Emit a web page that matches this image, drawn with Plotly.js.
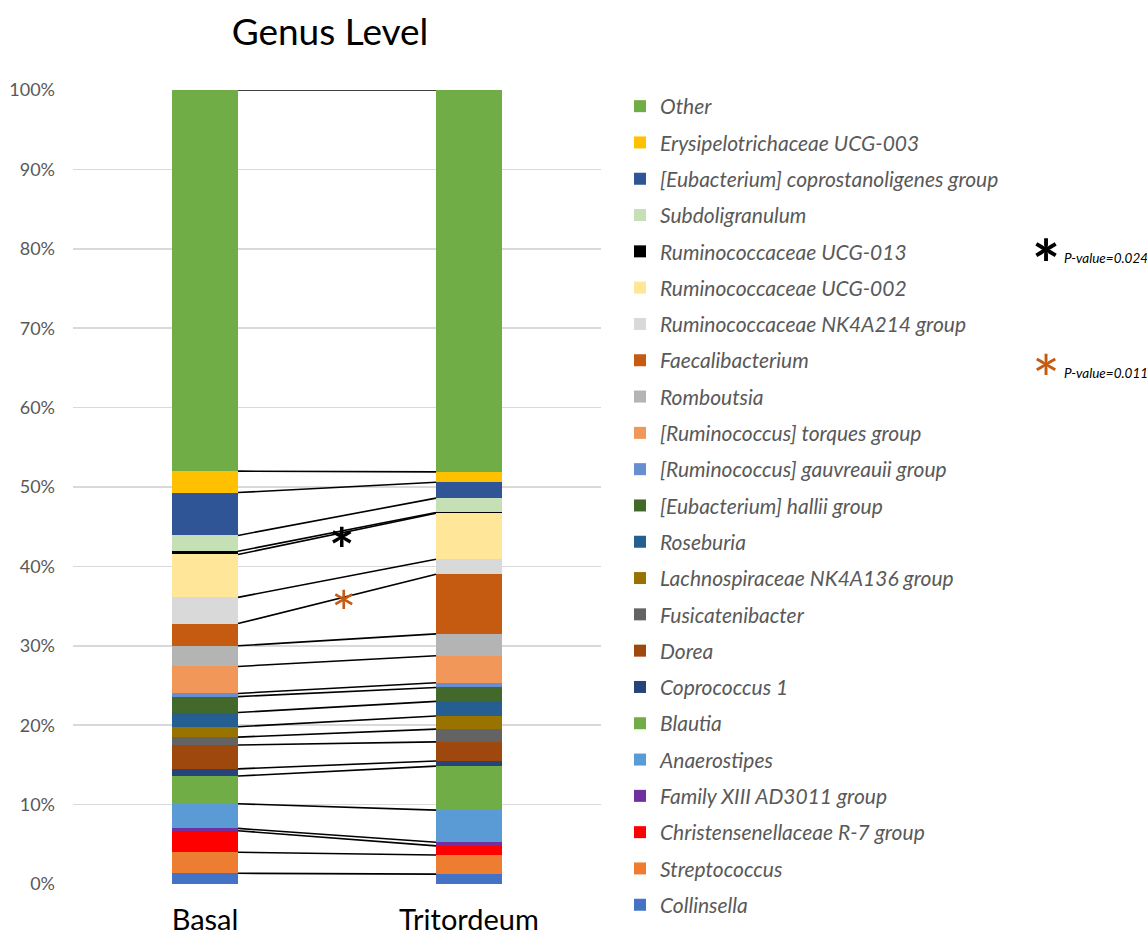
<!DOCTYPE html>
<html>
<head>
<meta charset="utf-8">
<script src="https://cdn.plot.ly/plotly-3.0.1.min.js"></script>
<style>
  html, body { margin: 0; padding: 0; background: #ffffff; }
  #chart { width: 1147px; height: 935px; }
</style>
</head>
<body>
<div id="chart"></div>
<script>
// Genera, listed from the bottom of each stacked bar to the top
const genera = [
  'Collinsella',
  'Streptococcus',
  'Christensenellaceae R-7 group',
  'Family XIII AD3011 group',
  'Anaerostipes',
  'Blautia',
  'Coprococcus 1',
  'Dorea',
  'Fusicatenibacter',
  'Lachnospiraceae NK4A136 group',
  'Roseburia',
  '[Eubacterium] hallii group',
  '[Ruminococcus] gauvreauii group',
  '[Ruminococcus] torques group',
  'Romboutsia',
  'Faecalibacterium',
  'Ruminococcaceae NK4A214 group',
  'Ruminococcaceae UCG-002',
  'Ruminococcaceae UCG-013',
  'Subdoligranulum',
  '[Eubacterium] coprostanoligenes group',
  'Erysipelotrichaceae UCG-003',
  'Other'
];

// Relative abundance (%) per genus
const basal = [1.35, 2.65, 2.7, 0.3, 3.1, 3.5, 0.9, 3.0, 1.0, 1.3, 1.8, 2.0, 0.4, 3.4, 2.6, 2.8, 3.3, 5.4, 0.4, 2.0, 5.4, 2.7, 48.0];
const tritordeum = [1.25, 2.4, 1.15, 0.45, 4.05, 5.55, 0.65, 2.4, 1.6, 1.65, 1.85, 1.75, 0.6, 3.4, 2.75, 7.5, 1.9, 5.8, 0.1, 1.8, 2.0, 1.3, 48.1];

const groups = ['Basal', 'Tritordeum'];

const colors = [
  '#4472C4', '#ED7D31', '#FF0000', '#7030A0', '#5B9BD5', '#70AD47',
  '#264478', '#9E480E', '#636363', '#997300', '#255E91', '#43682B',
  '#698ED0', '#F1975A', '#B4B4B4', '#C55A11', '#D9D9D9', '#FFE699',
  '#000000', '#C5E0B4', '#2F5597', '#FFC000', '#70AD47'
];

const BAR_W = 0.25;
const FONT = 'Lato, Carlito, "Open Sans", sans-serif';

// plot area in pixels, used to place the significance notes beside the legend
const PLOT_L = 73, PLOT_R = 601, PLOT_T = 90, PLOT_B = 884;
const px2paperX = v => (v - PLOT_L) / (PLOT_R - PLOT_L);
const px2paperY = v => (PLOT_B - v) / (PLOT_B - PLOT_T);

const traces = [];
genera.forEach((g, i) => {
  traces.push({
    type: 'bar',
    name: g,
    x: [0, 1],
    y: [basal[i], tritordeum[i]],
    width: [BAR_W, BAR_W],
    marker: { color: colors[i], line: { width: 0 } },
    legendgroup: 'g' + i,
    legendrank: genera.length - i,
    hoverinfo: 'name+y'
  });
});

// Series lines joining the top of each segment across the two bars
const lx = [], ly = [];
let cb = 0, ct = 0;
genera.forEach((g, i) => {
  cb += basal[i];
  ct += tritordeum[i];
  lx.push(BAR_W / 2, 1 - BAR_W / 2, null);
  ly.push(cb, ct, null);
});
traces.push({
  type: 'scatter',
  mode: 'lines',
  x: lx,
  y: ly,
  line: { color: '#000000', width: 1.6 },
  showlegend: false,
  hoverinfo: 'skip',
  cliponaxis: false
});

const layout = {
  width: 1147,
  height: 935,
  paper_bgcolor: '#ffffff',
  plot_bgcolor: '#ffffff',
  barmode: 'stack',
  margin: { l: PLOT_L, r: 1147 - PLOT_R, t: PLOT_T, b: 935 - PLOT_B },
  font: { family: FONT, color: '#595959' },
  title: {
    text: 'Genus Level',
    font: { family: FONT, size: 37, color: '#000000' },
    xref: 'container', x: 330 / 1147, xanchor: 'center',
    yref: 'container', y: 1 - 32 / 935, yanchor: 'middle'
  },
  xaxis: {
    range: [-0.5, 1.5],
    tickvals: [0, 1],
    ticktext: groups,
    tickfont: { family: FONT, size: 29, color: '#000000' },
    ticklabelstandoff: 16,
    showgrid: false,
    zeroline: false,
    showline: false,
    ticks: '',
    fixedrange: true
  },
  yaxis: {
    range: [0, 100],
    dtick: 10,
    ticksuffix: '%',
    tickfont: { family: FONT, size: 18, color: '#595959' },
    showgrid: true,
    gridcolor: '#D9D9D9',
    gridwidth: 1.5,
    zeroline: false,
    showline: false,
    ticks: '',
    ticklabelstandoff: 17,
    fixedrange: true
  },
  legend: {
    xref: 'container', x: 620 / 1147, xanchor: 'left',
    yref: 'container', y: 1 - 86 / 935, yanchor: 'top',
    traceorder: 'grouped',
    tracegroupgap: 6,
    maxheight: 900,
    font: { family: FONT, size: 21, color: '#595959', style: 'italic' },
    bgcolor: 'rgba(0,0,0,0)'
  },
  annotations: [
    { x: 0.519, y: 43.95, xref: 'x', yref: 'y', text: '*', showarrow: false,
      font: { family: FONT, size: 60, color: '#000000', weight: 'bold' },
      xanchor: 'center', yanchor: 'middle', yshift: -14 },
    { x: 0.527, y: 36.0, xref: 'x', yref: 'y', text: '*', showarrow: false,
      font: { family: FONT, size: 60, color: '#C55A11' },
      xanchor: 'center', yanchor: 'middle', yshift: -14 },
    { x: px2paperX(1046), y: px2paperY(248), xref: 'paper', yref: 'paper', text: '*', showarrow: false,
      font: { family: FONT, size: 66, color: '#000000', weight: 'bold' },
      xanchor: 'center', yanchor: 'middle', yshift: -15 },
    { x: px2paperX(1062), y: px2paperY(258), xref: 'paper', yref: 'paper', text: 'P-value=0.024', showarrow: false,
      xanchor: 'left', yanchor: 'middle',
      font: { family: FONT, size: 13.5, color: '#000000', style: 'italic' } },
    { x: px2paperX(1046), y: px2paperY(363), xref: 'paper', yref: 'paper', text: '*', showarrow: false,
      font: { family: FONT, size: 66, color: '#C55A11' },
      xanchor: 'center', yanchor: 'middle', yshift: -15 },
    { x: px2paperX(1062), y: px2paperY(373), xref: 'paper', yref: 'paper', text: 'P-value=0.011', showarrow: false,
      xanchor: 'left', yanchor: 'middle',
      font: { family: FONT, size: 13.5, color: '#000000', style: 'italic' } }
  ],
  showlegend: true
};

Plotly.newPlot('chart', traces, layout, { displayModeBar: false, staticPlot: true });
</script>
</body>
</html>
